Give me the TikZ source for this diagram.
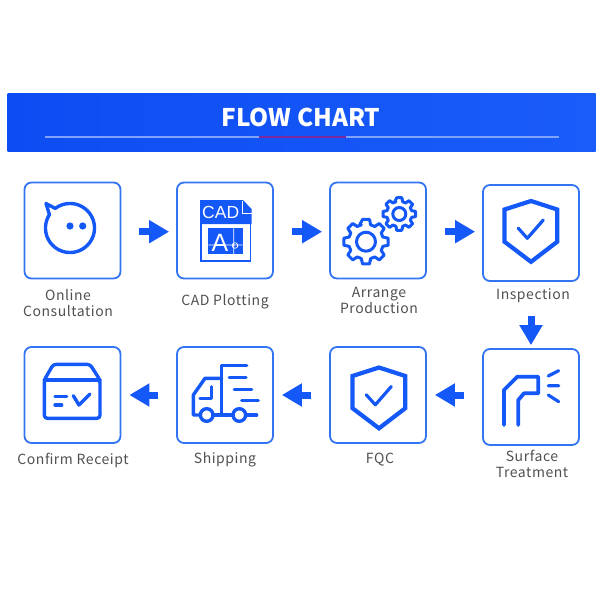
\documentclass[tikz,border=0pt]{standalone}
\usepackage{fontspec}
\setmainfont{Noto Sans CJK SC}
\newfontfamily\labfont[LetterSpace=4]{Noto Sans CJK SC}
\newfontfamily\cadfont{Liberation Sans}
\usetikzlibrary{arrows.meta}
\definecolor{iconblue}{HTML}{1558F8}
\definecolor{boxblue}{HTML}{3274F2}
\definecolor{labgray}{HTML}{505050}
\definecolor{bannerleft}{HTML}{0D4CF2}
\definecolor{bannerright}{HTML}{1A5CFA}
\definecolor{ruleblue}{HTML}{7FA3F8}
\definecolor{rulepurple}{HTML}{7A2A9A}
\tikzset{
  stepbox/.style={draw=boxblue,line width=1.8pt,rounded corners=7pt,minimum width=96pt,minimum height=96pt,inner sep=0pt},
  flowarrow/.style={draw=iconblue,line width=7pt,-{Triangle[length=20pt,width=22pt]}},
  caption/.style={text=labgray,font=\labfont\fontsize{14}{16}\selectfont,align=center,inner sep=0pt},
  icon/.style={draw=iconblue,line width=3.4pt,line join=round,line cap=round}
}
\newcommand{\shieldicon}[2]{%
  \begin{scope}[shift={(#1,#2)}]
    \draw[icon,line width=4.2pt,line join=miter] (531,201) -- (557.3,209.5) -- (557.3,241.7) -- (531,261.8) -- (504.5,241.7) -- (504.5,209.5) -- cycle;
    \draw[icon,line width=3.2pt] (518.3,228.3) -- (527.3,238.3) -- (543.3,220);
  \end{scope}}
\newcommand{\gearicon}[5]{% cx cy router rroot n
  \draw[icon,line width=3pt]
    ({#1+#4*cos(-90-0.5*360/#5)},{#2+#4*sin(-90-0.5*360/#5)})
    \foreach \k in {1,...,#5}{
      -- ({#1+#3*cos(-90+(\k-1)*360/#5-0.2*360/#5)},{#2+#3*sin(-90+(\k-1)*360/#5-0.2*360/#5)})
      -- ({#1+#3*cos(-90+(\k-1)*360/#5+0.2*360/#5)},{#2+#3*sin(-90+(\k-1)*360/#5+0.2*360/#5)})
      -- ({#1+#4*cos(-90+(\k-1)*360/#5+0.34*360/#5)},{#2+#4*sin(-90+(\k-1)*360/#5+0.34*360/#5)})
      -- ({#1+#4*cos(-90+\k*360/#5-0.34*360/#5)},{#2+#4*sin(-90+\k*360/#5-0.34*360/#5)})
    } -- cycle;}
\begin{document}
\begin{tikzpicture}[x=1pt,y=-1pt]
\useasboundingbox (0,0) rectangle (600,600);
% banner
\shade[left color=bannerleft,right color=bannerright] (7.5,93.5) rectangle (595.5,151.5);
\draw[draw=ruleblue,line width=1.2pt] (44.5,137) -- (558.5,137);
\draw[draw=rulepurple,line width=1.2pt] (259,137) -- (346,137);
\node[text=white,font=\bfseries\fontsize{24.3}{28}\selectfont,inner sep=0pt] (title) at (301,117) {FLOW CHART};
% boxes
\node[stepbox] (a) at (72.5,230.5) {};
\node[stepbox] (b) at (225,230.5) {};
\node[stepbox] (c) at (378,230.5) {};
\node[stepbox] (d) at (531,233) {};
\node[stepbox] (e) at (531,397) {};
\node[stepbox] (f) at (378,395) {};
\node[stepbox] (g) at (225,395) {};
\node[stepbox] (h) at (72.5,395) {};
% captions
\node[caption] (la) at (68,303) {Online\\Consultation};
\node[caption] (lb) at (225,302) {CAD Plotting};
\node[caption] (lc) at (379,300.5) {Arrange\\Production};
\node[caption] (ld) at (533,296) {Inspection};
\node[caption] (le) at (532,464) {Surface\\Treatment};
\node[caption] (lf) at (380,460) {FQC};
\node[caption] (lg) at (225,460) {Shipping};
\node[caption] (lh) at (73,460) {Confirm Receipt};
% arrows
\coordinate (r1) at (0,231.7);
\coordinate (r2) at (0,395);
\draw[flowarrow,shorten <=18pt,shorten >=7pt] (a.east |- r1) -- (b.west |- r1);
\draw[flowarrow,shorten <=18pt,shorten >=7pt] (b.east |- r1) -- (c.west |- r1);
\draw[flowarrow,shorten <=18pt,shorten >=7pt] (c.east |- r1) -- (d.west |- r1);
\draw[flowarrow,shorten <=34pt,shorten >=3pt] (d.south) -- (e.north);
\draw[flowarrow,shorten <=18pt,shorten >=8pt] (e.west |- r2) -- (f.east |- r2);
\draw[flowarrow,shorten <=18pt,shorten >=8pt] (f.west |- r2) -- (g.east |- r2);
\draw[flowarrow,shorten <=18pt,shorten >=8pt] (g.west |- r2) -- (h.east |- r2);
% icon 1: chat bubble
\draw[icon] plot[domain=233:573,samples=70] ({70+24.5*cos(\x)},{228+24.5*sin(\x)}) -- (46,203.5) -- cycle;
\fill[iconblue] (70,226) circle[radius=3.6pt] (82.7,226) circle[radius=3.6pt];
% icon 2: CAD document
\fill[iconblue] (200,200) -- (243,200) -- (251.5,209) -- (251.5,224) -- (200,224) -- cycle;
\draw[draw=white,line width=1.3pt] (242.7,201) -- (242.7,213.5) -- (251.5,213.5);
\draw[draw=iconblue,line width=1.8pt] (201,224) -- (201,261) -- (250.5,261) -- (250.5,224);
\node[text=white,font=\cadfont\fontsize{17.5}{17}\selectfont,inner sep=0pt,anchor=base west] (cadt) at (202,218.5) {CAD};
\fill[iconblue] (208.3,228.3) rectangle (242.7,254);
\draw[draw=white,line width=.7pt] (208.3,245) -- (242.7,245) (233.8,228.3) -- (233.8,254) (235,245.5) circle[radius=2.8pt];
\node[text=white,font=\cadfont\fontsize{25}{25}\selectfont,inner sep=0pt] (cada) at (220,242.5) {A};
% icon 3: gears
\gearicon{366}{241.7}{22.5}{17.5}{8}
\draw[icon,line width=3pt] (366,241.7) circle[radius=9.5pt];
\gearicon{399.3}{214}{16.5}{12.7}{8}
\draw[icon,line width=3pt] (399.3,214) circle[radius=6.5pt];
% icons 4 and 6: shields
\shieldicon{0}{0}
\shieldicon{-152}{166.5}
% icon 5: surface treatment
\draw[icon,line width=3.8pt] (504,425) -- (504,390) -- (517.3,376.7) -- (538.3,376.7) -- (538.3,393.3) -- (524,393.3) -- (518.3,400) -- (518.3,425);
\draw[icon,line width=3.2pt] (548.3,376) -- (558.7,370.7) (548.3,385.7) -- (558.7,385.7) (548.3,395) -- (558.7,401.7);
% icon 7: truck
\draw[icon] (246.7,365.7) -- (221.7,365.7) -- (221.7,415);
\draw[icon] (221.7,378.3) -- (205,378.3) -- (193.3,395) -- (193.3,415) -- (200,415);
\draw[icon] (211.7,386.7) -- (211.7,398.3) -- (200,398.3);
\draw[icon] (213,415) -- (232.7,415) (246,415) -- (256.7,415);
\draw[icon] (206.7,415) circle[radius=6.3pt] (239.3,415) circle[radius=6.3pt];
\draw[icon] (229.3,377.7) -- (246,377.7) (234.3,389.3) -- (251.7,389.3) (241.7,400.7) -- (258.3,400.7);
% icon 8: box
\draw[icon,rounded corners=3pt] (44.3,380) -- (53.3,364.3) -- (90,364.3) -- (100,380) -- (100,418.3) -- (44.3,418.3) -- cycle;
\draw[icon] (44.3,380) -- (100,380);
\draw[icon] (55,396.7) -- (66.7,396.7) (55,405) -- (61.7,405);
\draw[icon] (73.3,395.7) -- (79,405) -- (90,394);
\end{tikzpicture}
\end{document}
